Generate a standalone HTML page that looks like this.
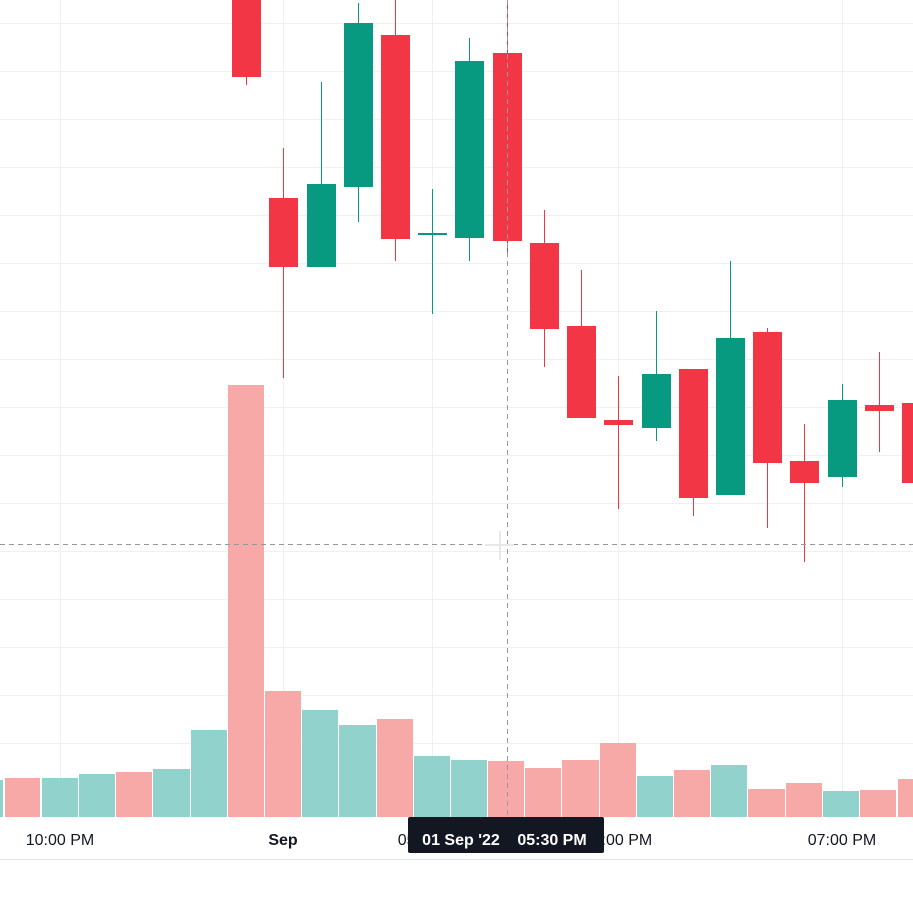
<!DOCTYPE html><html><head><style>body{margin:0;background:#fff}svg{display:block}</style></head><body>
<svg width="913" height="913" xmlns="http://www.w3.org/2000/svg" font-family="Liberation Sans, sans-serif">
<rect width="913" height="913" fill="#fff"/>
<g stroke="#f0f0f0" stroke-width="1">
<line x1="0" x2="913" y1="23.5" y2="23.5"/><line x1="0" x2="913" y1="71.5" y2="71.5"/><line x1="0" x2="913" y1="119.5" y2="119.5"/><line x1="0" x2="913" y1="167.5" y2="167.5"/><line x1="0" x2="913" y1="215.5" y2="215.5"/><line x1="0" x2="913" y1="263.5" y2="263.5"/><line x1="0" x2="913" y1="311.5" y2="311.5"/><line x1="0" x2="913" y1="359.5" y2="359.5"/><line x1="0" x2="913" y1="407.5" y2="407.5"/><line x1="0" x2="913" y1="455.5" y2="455.5"/><line x1="0" x2="913" y1="503.5" y2="503.5"/><line x1="0" x2="913" y1="551.5" y2="551.5"/><line x1="0" x2="913" y1="599.5" y2="599.5"/><line x1="0" x2="913" y1="647.5" y2="647.5"/><line x1="0" x2="913" y1="695.5" y2="695.5"/><line x1="0" x2="913" y1="743.5" y2="743.5"/>
<line y1="0" y2="817" x1="60.5" x2="60.5"/><line y1="0" y2="817" x1="283.5" x2="283.5"/><line y1="0" y2="817" x1="432.5" x2="432.5"/><line y1="0" y2="817" x1="618.5" x2="618.5"/><line y1="0" y2="817" x1="842.5" x2="842.5"/>
</g>
<g>
<rect x="-10" y="780" width="13" height="37" fill="#92d2cc"/>
<rect x="5" y="778" width="35" height="39" fill="#f7a9a7"/>
<rect x="42" y="778" width="36" height="39" fill="#92d2cc"/>
<rect x="79" y="774" width="36" height="43" fill="#92d2cc"/>
<rect x="116" y="772" width="36" height="45" fill="#f7a9a7"/>
<rect x="153" y="769" width="37" height="48" fill="#92d2cc"/>
<rect x="191" y="730" width="36" height="87" fill="#92d2cc"/>
<rect x="228" y="385" width="36" height="432" fill="#f7a9a7"/>
<rect x="265" y="691" width="36" height="126" fill="#f7a9a7"/>
<rect x="302" y="710" width="36" height="107" fill="#92d2cc"/>
<rect x="339" y="725" width="37" height="92" fill="#92d2cc"/>
<rect x="377" y="719" width="36" height="98" fill="#f7a9a7"/>
<rect x="414" y="756" width="36" height="61" fill="#92d2cc"/>
<rect x="451" y="760" width="36" height="57" fill="#92d2cc"/>
<rect x="488" y="761" width="36" height="56" fill="#f7a9a7"/>
<rect x="525" y="768" width="36" height="49" fill="#f7a9a7"/>
<rect x="562" y="760" width="37" height="57" fill="#f7a9a7"/>
<rect x="600" y="743" width="36" height="74" fill="#f7a9a7"/>
<rect x="637" y="776" width="36" height="41" fill="#92d2cc"/>
<rect x="674" y="770" width="36" height="47" fill="#f7a9a7"/>
<rect x="711" y="765" width="36" height="52" fill="#92d2cc"/>
<rect x="748" y="789" width="37" height="28" fill="#f7a9a7"/>
<rect x="786" y="783" width="36" height="34" fill="#f7a9a7"/>
<rect x="823" y="791" width="36" height="26" fill="#92d2cc"/>
<rect x="860" y="790" width="36" height="27" fill="#f7a9a7"/>
<rect x="898" y="779" width="20" height="38" fill="#f7a9a7"/>
</g>
<g>
<g fill="#f23645" stroke="#f23645">
<line x1="246.5" x2="246.5" y1="0" y2="85"/><rect x="232" y="0" width="29" height="77" stroke="none"/>
<line x1="283.5" x2="283.5" y1="148" y2="378"/><rect x="269" y="198" width="29" height="69" stroke="none"/>
<line x1="395.5" x2="395.5" y1="0" y2="261"/><rect x="381" y="35" width="29" height="204" stroke="none"/>
<line x1="507.5" x2="507.5" y1="0" y2="253"/><rect x="493" y="53" width="29" height="188" stroke="none"/>
<line x1="544.5" x2="544.5" y1="210" y2="367"/><rect x="530" y="243" width="29" height="86" stroke="none"/>
<line x1="581.5" x2="581.5" y1="270" y2="418"/><rect x="567" y="326" width="29" height="92" stroke="none"/>
<line x1="618.5" x2="618.5" y1="376" y2="509"/><rect x="604" y="420" width="29" height="5" stroke="none"/>
<line x1="693.5" x2="693.5" y1="369" y2="516"/><rect x="679" y="369" width="29" height="129" stroke="none"/>
<line x1="767.5" x2="767.5" y1="328" y2="528"/><rect x="753" y="332" width="29" height="131" stroke="none"/>
<line x1="804.5" x2="804.5" y1="424" y2="562"/><rect x="790" y="461" width="29" height="22" stroke="none"/>
<line x1="879.5" x2="879.5" y1="352" y2="452"/><rect x="865" y="405" width="29" height="6" stroke="none"/>
<rect x="902" y="403" width="29" height="80" stroke="none"/>
</g>
<g fill="#089981" stroke="#089981">
<line x1="321.5" x2="321.5" y1="82" y2="267"/><rect x="307" y="184" width="29" height="83" stroke="none"/>
<line x1="358.5" x2="358.5" y1="3" y2="222"/><rect x="344" y="23" width="29" height="164" stroke="none"/>
<line x1="432.5" x2="432.5" y1="189" y2="314"/><rect x="418" y="233" width="29" height="2" stroke="none"/>
<line x1="469.5" x2="469.5" y1="38" y2="261"/><rect x="455" y="61" width="29" height="177" stroke="none"/>
<line x1="656.5" x2="656.5" y1="311" y2="441"/><rect x="642" y="374" width="29" height="54" stroke="none"/>
<line x1="730.5" x2="730.5" y1="261" y2="495"/><rect x="716" y="338" width="29" height="157" stroke="none"/>
<line x1="842.5" x2="842.5" y1="384" y2="487"/><rect x="828" y="400" width="29" height="77" stroke="none"/>
</g>
</g>
<g stroke="#9598a1" stroke-dasharray="5,4" stroke-width="1">
<line x1="507.5" x2="507.5" y1="0" y2="817"/>
<line x1="0" x2="913" y1="544.5" y2="544.5"/>
</g>
<g stroke="#e8e8e8" stroke-width="2"><line x1="500" x2="500" y1="531" y2="560"/><line x1="485" x2="514" y1="545" y2="545"/></g>
<line x1="0" x2="913" y1="859.5" y2="859.5" stroke="#e0e3eb"/>
<g font-size="16" fill="#131722" text-anchor="middle">
<text x="60" y="845">10:00 PM</text>
<text x="283" y="845" font-weight="bold">Sep</text>
<text x="432" y="845">05:00 PM</text>
<text x="618" y="845">06:00 PM</text>
<text x="842" y="845">07:00 PM</text>
</g>
<rect x="408" y="817" width="196" height="36" rx="2" fill="#131722"/>
<g font-size="16" fill="#fff" font-weight="bold" text-anchor="middle">
<text x="461" y="845">01 Sep '22</text>
<text x="552" y="845">05:30 PM</text>
</g>
</svg>
</body></html>
